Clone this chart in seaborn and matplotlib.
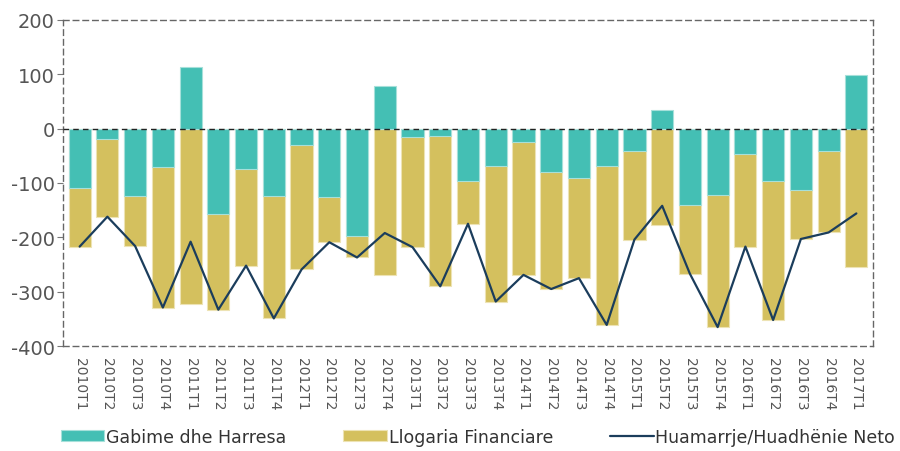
import matplotlib.pyplot as plt
import numpy as np
import pandas as pd
import seaborn as sns

#%% data
quarters = ['2010T1', '2010T2', '2010T3', '2010T4', '2011T1', '2011T2', '2011T3', '2011T4',
            '2012T1', '2012T2', '2012T3', '2012T4', '2013T1', '2013T2', '2013T3', '2013T4',
            '2014T1', '2014T2', '2014T3', '2014T4', '2015T1', '2015T2', '2015T3', '2015T4',
            '2016T1', '2016T2', '2016T3', '2016T4', '2017T1']
gabime = [-110, -20, -124, -71, 114, -157, -75, -124, -31, -126, -198, 78, -16, -14, -97,
          -69, -25, -80, -91, -69, -42, 35, -141, -122, -47, -97, -113, -42, 98]
financiare = [-107, -142, -92, -258, -322, -176, -177, -225, -228, -83, -39, -270, -202, -276,
              -78, -249, -244, -215, -184, -292, -162, -177, -126, -243, -170, -255, -90, -149, -254]

#%%
df = pd.DataFrame({'kw': quarters, 'gabime': gabime, 'financiare': financiare})
df['neto'] = df.gabime + df.financiare
# diverging stack: khaki sits below teal when teal is negative, else starts at 0
df['fin_edge'] = df.financiare + np.minimum(df.gabime, 0)

teal = '#44BFB4'
khaki = '#D4C05E'
navy = '#1B3D5C'

sns.set_style('white')
plt.rcParams['font.family'] = ['DejaVu Sans']
plt.rcParams['axes.unicode_minus'] = False

fig, ax = plt.subplots(figsize=(9, 4.52), dpi=100)
plt.subplots_adjust(left=0.07, right=0.97, top=0.954, bottom=0.232)

sns.barplot(data=df, x='kw', y='fin_edge', color=khaki, saturation=1, width=0.8,
            edgecolor='#EDE3B4', linewidth=0.8, label='Llogaria Financiare', ax=ax)
sns.barplot(data=df, x='kw', y='gabime', color=teal, saturation=1, width=0.8,
            edgecolor='#A6E0DA', linewidth=0.8, label='Gabime dhe Harresa', ax=ax)
sns.lineplot(x=np.arange(len(df)), y=df.neto, color=navy, linewidth=1.6,
             label='Huamarrje/Huadhënie Neto', ax=ax)

ax.axhline(0, color='#222222', linewidth=1, linestyle=(0, (4, 3)), zorder=3)

ax.set_ylim(-400, 200)
ax.set_xlim(-0.6, len(df) - 0.4)
ax.set_yticks(range(-400, 201, 100))
ax.set_xlabel('')
ax.set_ylabel('')
ax.tick_params(axis='y', labelsize=14, colors='#555555', length=4, width=0.8, direction='out', left=True, pad=2)
ax.tick_params(axis='x', labelsize=10, colors='#555555', length=0, pad=8)
plt.setp(ax.get_xticklabels(), rotation=-90)
ax.yaxis.set_tick_params(color='#777777')

for s in ax.spines.values():
    s.set_visible(True)
    s.set_color('#666666')
    s.set_linewidth(1)
    s.set_linestyle((0, (4, 3)))

handles, labels = ax.get_legend_handles_labels()
order = [labels.index('Gabime dhe Harresa'), labels.index('Llogaria Financiare'),
         labels.index('Huamarrje/Huadhënie Neto')]
leg = fig.legend([handles[i] for i in order], [labels[i] for i in order],
                 loc='center', bbox_to_anchor=(0.531, 0.031), ncol=3, frameon=False,
                 fontsize=12.5, handlelength=2.5, handleheight=0.6, handletextpad=0.1,
                 columnspacing=3.3)
for t in leg.get_texts():
    t.set_color('#333333')
ax.get_legend().remove()

fig.savefig('out.png', dpi=100)
